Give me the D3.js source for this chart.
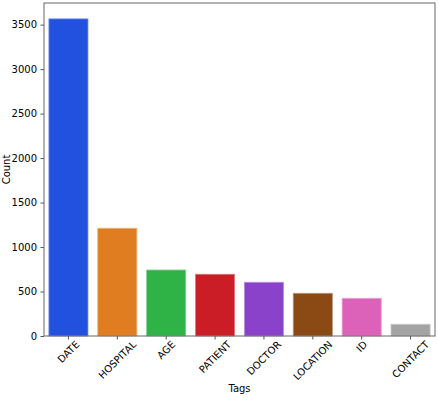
<!DOCTYPE html>
<html>
<head>
<meta charset="utf-8">
<script src="https://cdn.jsdelivr.net/npm/d3@7"></script>
<style>
  body { margin: 0; background: #fff; }
  text { font-family: "DejaVu Sans", sans-serif; fill: #000; }
</style>
</head>
<body>
<svg width="439" height="398"></svg>
<script>
// data
const tags = ["DATE", "HOSPITAL", "AGE", "PATIENT", "DOCTOR", "LOCATION", "ID", "CONTACT"];
const counts = [3565, 1211, 742, 694, 604, 480, 424, 132];
const colors = ["#2251df", "#df7d20", "#30b346", "#cb1d25", "#8a42cb", "#8b4a14", "#dc61b8", "#a3a3a3"];
const yTicks = [0, 500, 1000, 1500, 2000, 2500, 3000, 3500];

const svg = d3.select("svg");
const plotL = 44, plotR = 435, plotT = 3, plotB = 336;
const fs = 10;

const x = d3.scaleBand()
    .domain(tags)
    .range([plotL, plotR])
    .paddingInner(0.2)
    .paddingOuter(0.1);

const y = d3.scaleLinear()
    .domain([0, d3.max(counts) * 1.05])
    .range([plotB, plotT]);

// bars
svg.append("g")
  .selectAll("rect")
  .data(tags)
  .join("rect")
    .attr("x", d => x(d))
    .attr("y", (d, i) => y(counts[i]))
    .attr("width", x.bandwidth())
    .attr("height", (d, i) => y(0) - y(counts[i]))
    .attr("fill", (d, i) => colors[i])
    .attr("stroke", (d, i) => d3.interpolateRgb(colors[i], "#fff")(0.4))
    .attr("stroke-width", 0.8);

// y axis
const yAxis = svg.append("g")
    .attr("transform", `translate(${plotL},0)`)
    .call(d3.axisLeft(y).tickValues(yTicks).tickFormat(d3.format("d")).tickSize(3.5).tickPadding(3.5));
yAxis.select(".domain").remove();
yAxis.selectAll("line").attr("stroke", "#555");
yAxis.selectAll("text").attr("font-size", fs).attr("font-family", "DejaVu Sans").attr("fill", "#000");

// x axis
const xAxis = svg.append("g")
    .attr("transform", `translate(0,${plotB})`)
    .call(d3.axisBottom(x).tickSize(3.5).tickFormat(""));
xAxis.select(".domain").remove();
xAxis.selectAll("line").attr("stroke", "#555");

// rotated x labels, centered on the tick
svg.append("g")
  .selectAll("text")
  .data(tags)
  .join("text")
    .attr("font-size", fs)
    .attr("text-anchor", "middle")
    .attr("dominant-baseline", "central")
    .text(d => d)
    .attr("transform", function(d) {
        const w = this.getComputedTextLength();
        const h = fs * 0.75;
        const cy = plotB + 4 + (w + h) * Math.SQRT1_2 / 2;
        const cx = x(d) + x.bandwidth() / 2;
        return `translate(${cx},${cy}) rotate(-45)`;
    });

// frame
svg.append("rect")
    .attr("x", plotL).attr("y", plotT)
    .attr("width", plotR - plotL).attr("height", plotB - plotT)
    .attr("fill", "none")
    .attr("stroke", "#666")
    .attr("stroke-width", 1);

// axis titles
svg.append("text")
    .attr("x", (plotL + plotR) / 2)
    .attr("y", 392)
    .attr("text-anchor", "middle")
    .attr("font-size", fs)
    .text("Tags");

svg.append("text")
    .attr("transform", `translate(10,${(plotT + plotB) / 2}) rotate(-90)`)
    .attr("text-anchor", "middle")
    .attr("font-size", fs)
    .text("Count");
</script>
</body>
</html>
